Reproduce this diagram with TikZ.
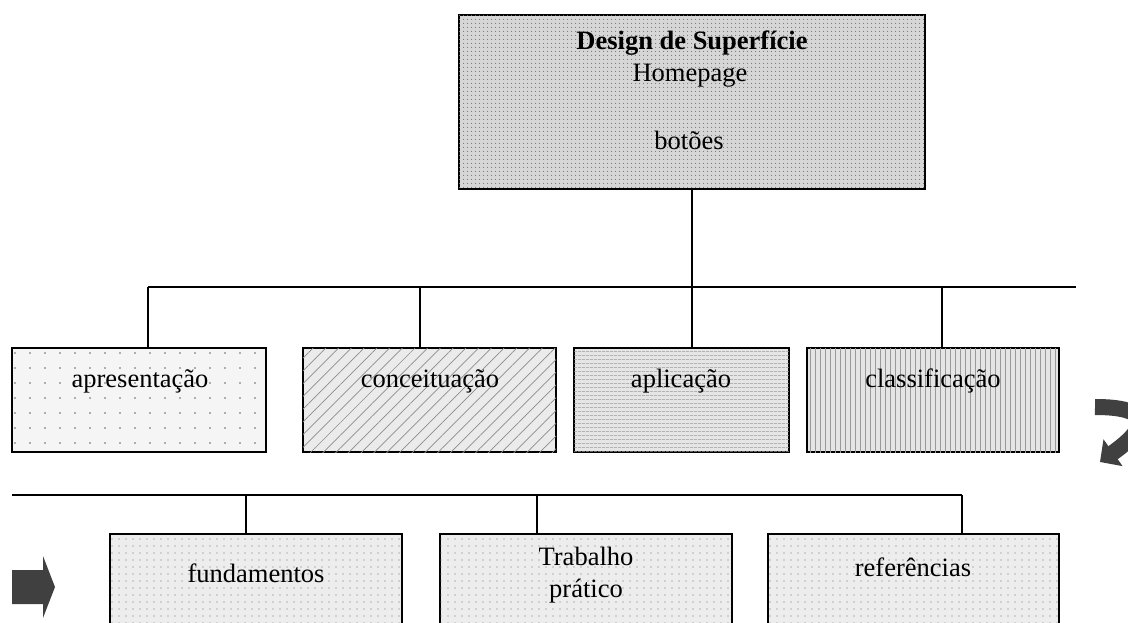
\documentclass[tikz,border=0pt]{standalone}
\usepackage{fontspec}
\setmainfont{Liberation Serif}
\usetikzlibrary{patterns.meta,arrows.meta}
\begin{document}
\begin{tikzpicture}[x=1pt,y=-1pt,
  box/.style={draw=black, line width=1.8pt, rectangle, inner sep=0pt, outer sep=0pt, anchor=north west},
  lbl/.style={font=\fontsize{26.5}{30}\selectfont, inner sep=0pt, anchor=base},
  conn/.style={draw=black, line width=1.8pt},
  topfill/.style={fill=black!16, postaction={pattern={Dots[distance=4pt,radius=0.65pt]}, pattern color=black!55}},
  aprfill/.style={fill=black!4, postaction={pattern={Dots[distance=15pt,radius=0.9pt]}, pattern color=black!60}},
  concfill/.style={fill=black!8, postaction={pattern={Lines[angle=45,distance=9pt,line width=0.7pt]}, pattern color=black!45}},
  aplfill/.style={fill=black!10, postaction={pattern={Lines[angle=0,distance=4pt,line width=0.8pt]}, pattern color=black!40}},
  clasfill/.style={fill=black!10, postaction={pattern={Lines[angle=90,distance=5pt,line width=0.8pt]}, pattern color=black!40}},
  lowfill/.style={fill=black!7, postaction={pattern={Dots[distance=7pt,radius=0.7pt]}, pattern color=black!55}},
  blockarrow/.style={fill=black!75},
]
\useasboundingbox (0,0) rectangle (1128,623);
\clip (0,0) rectangle (1128,623);

% top box
\node[box, topfill, minimum width=466pt, minimum height=174pt] (top) at (459,15) {};
\node[lbl, font=\bfseries\fontsize{26.5}{30}\selectfont] (t1) at (692,50) {Design de Superfície};
\node[lbl] (t2) at (690,82) {Homepage};
\node[lbl] (t3) at (689,150) {botões};

% first row
\node[box, aprfill, minimum width=254pt, minimum height=104pt] (apr) at (12,348) {};
\node[box, concfill, minimum width=253pt, minimum height=104pt] (conc) at (303,348) {};
\node[box, aplfill, minimum width=215pt, minimum height=104pt] (apl) at (574,348) {};
\node[box, clasfill, minimum width=252pt, minimum height=104pt] (clas) at (807,348) {};
\node[lbl] (l1) at (140,387) {apresentação};
\node[lbl] (l2) at (430,387) {conceituação};
\node[lbl] (l3) at (681,387) {aplicação};
\node[lbl] (l4) at (933,387) {classificação};

\coordinate (b1L) at (148,287);
\coordinate (b1R) at (1076,287);
\coordinate (d2) at (420,287);
\coordinate (d4) at (942,287);
\draw[conn] (b1L) -- (b1R);
\draw[conn] (top.south) -- (top.south |- apl.north);
\draw[conn] (b1L) -- (b1L |- apr.north);
\draw[conn] (d2) -- (d2 |- conc.north);
\draw[conn] (d4) -- (d4 |- clas.north);

% second row
\node[box, lowfill, minimum width=292pt, minimum height=120pt] (fund) at (110,534) {};
\node[box, lowfill, minimum width=292pt, minimum height=120pt] (trab) at (440,534) {};
\node[box, lowfill, minimum width=291pt, minimum height=120pt] (ref) at (768,534) {};
\node[lbl] (l5) at (256,582) {fundamentos};
\node[lbl] (l6) at (586,565) {Trabalho};
\node[lbl] (l7) at (586,597) {prático};
\node[lbl] (l8) at (913,576) {referências};

\coordinate (b2L) at (12,495);
\coordinate (b2R) at (962,495);
\coordinate (e1) at (246,495);
\coordinate (e2) at (537,495);
\draw[conn] (b2L) -- (b2R);
\draw[conn] (e1) -- (e1 |- fund.north);
\draw[conn] (e2) -- (e2 |- trab.north);
\draw[conn] (b2R) -- (b2R |- ref.north);

% left block arrow
\path[blockarrow] (12,570) -- (43,570) -- (43,556) -- (55,587) -- (43,618) -- (43,604) -- (12,604) -- cycle;

% right curved arrow (cut by the page edge)
\draw[black!75, line width=16pt, -{Triangle[length=16pt,width=32pt]}]
  (1095,407) .. controls (1150,407) and (1152,425) .. (1100,462);
\end{tikzpicture}
\end{document}
